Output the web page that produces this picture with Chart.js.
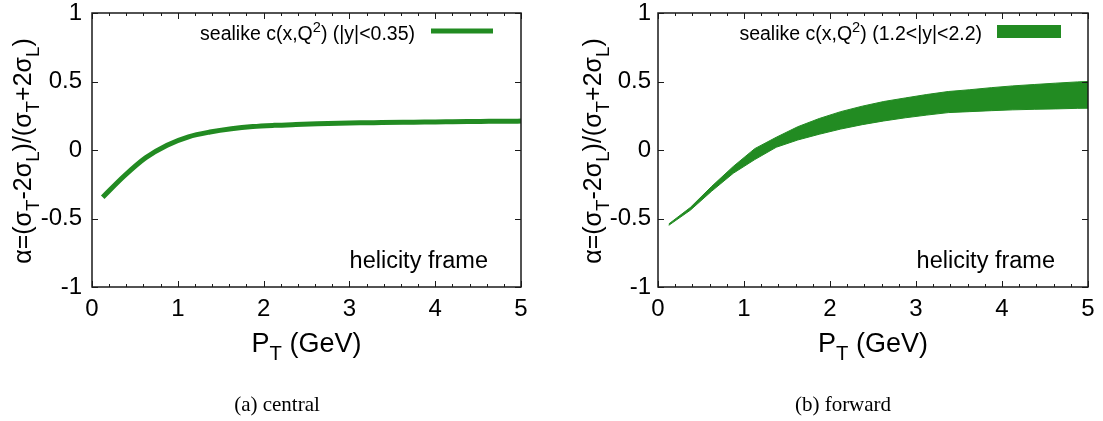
<!DOCTYPE html>
<html>
<head>
<meta charset="utf-8">
<script src="https://cdn.jsdelivr.net/npm/chart.js@4.4.1/dist/chart.umd.min.js"></script>
<style>
  body { margin: 0; background: #fff; width: 1103px; height: 421px; position: relative; overflow: hidden; }
  canvas { position: absolute; top: 0; }
  #central { left: 0; }
  #forward { left: 551px; }
  .cap { position: absolute; font-family: "Liberation Serif", "Times New Roman", serif; font-size: 21px; line-height: 21px;
         color: #000; white-space: nowrap; transform: translateX(-50%); }
</style>
</head>
<body>
<canvas id="central" width="551" height="421"></canvas>
<canvas id="forward" width="552" height="421"></canvas>
<div class="cap" style="left:277px; top:394px;">(a) central</div>
<div class="cap" style="left:843px; top:394px;">(b) forward</div>
<script>
// P_T grid (GeV) and polarisation parameter alpha, helicity frame
const ptCentral    = [0.125, 0.375, 0.625, 0.875, 1.125, 1.375, 1.625, 1.875, 2.125, 2.375, 2.625, 2.875,
                      3.125, 3.375, 3.625, 3.875, 4.125, 4.375, 4.625, 4.875, 5.0];
const alphaCentral = [-0.345, -0.19, -0.057, 0.035, 0.096, 0.131, 0.155, 0.171, 0.180, 0.186, 0.191, 0.195,
                      0.198, 0.200, 0.202, 0.204, 0.206, 0.208, 0.209, 0.210, 0.211];

const ptForward         = [0.125, 0.375, 0.625, 0.875, 1.125, 1.375, 1.625, 1.875, 2.125, 2.375, 2.625, 2.875,
                           3.125, 3.375, 3.625, 3.875, 4.125, 4.375, 4.625, 4.875, 5.0];
const alphaForwardUpper = [-0.54, -0.42, -0.265, -0.12, 0.01, 0.093, 0.17, 0.23, 0.28, 0.32, 0.354, 0.38,
                           0.405, 0.427, 0.44, 0.455, 0.468, 0.478, 0.488, 0.497, 0.50];
const alphaForwardLower = [-0.55, -0.44, -0.30, -0.17, -0.07, 0.02, 0.073, 0.115, 0.153, 0.185, 0.212, 0.235,
                           0.255, 0.273, 0.28, 0.287, 0.293, 0.297, 0.30, 0.304, 0.305];

const xTickValues = [0, 1, 2, 3, 4, 5];
const xTickLabels = ['0', '1', '2', '3', '4', '5'];
const yTickValues = [-1, -0.5, 0, 0.5, 1];
const yTickLabels = ['-1', '-0.5', '0', '0.5', '1'];

const FONT  = '"Liberation Sans", Arial, Helvetica, sans-serif';
const GREEN = '#228b22';

// Text with sub/superscripts, drawn as a run of segments
function segWidth(ctx, segs, size) {
  let w = 0;
  for (const s of segs) {
    ctx.font = (s.s ? size * 0.75 : size) + 'px ' + FONT;
    w += ctx.measureText(s.t).width;
  }
  return w;
}
function drawSegs(ctx, segs, x, y, size, align) {
  const w = segWidth(ctx, segs, size);
  let cx = align === 'right' ? x - w : align === 'center' ? x - w / 2 : x;
  ctx.textAlign = 'left';
  ctx.textBaseline = 'alphabetic';
  ctx.fillStyle = '#000';
  for (const s of segs) {
    const sz = s.s ? size * 0.75 : size;
    ctx.font = sz + 'px ' + FONT;
    const dy = s.s === 'sub' ? size * 0.3 : s.s === 'sup' ? -size * 0.42 : 0;
    ctx.fillText(s.t, cx, y + dy);
    cx += ctx.measureText(s.t).width;
  }
}

const yTitle = [{t: 'α=(σ'}, {t: 'T', s: 'sub'}, {t: '-2σ'}, {t: 'L', s: 'sub'}, {t: ')/(σ'},
                {t: 'T', s: 'sub'}, {t: '+2σ'}, {t: 'L', s: 'sub'}, {t: ')'}];
const xTitle = [{t: 'P'}, {t: 'T', s: 'sub'}, {t: ' (GeV)'}];

// Frame, inward ticks, axis titles, key and frame label
function decorations(cfg) {
  return {
    id: 'decorations',
    afterDraw(chart) {
      const ctx = chart.ctx, a = chart.chartArea, xs = chart.scales.x, ys = chart.scales.y;
      ctx.save();
      ctx.strokeStyle = '#1a1a1a';
      ctx.lineWidth = 1;
      ctx.beginPath();
      for (let i = 0; i <= 25; i++) {
        const v = i / 5;
        const len = i % 5 === 0 ? 6 : 3;
        const px = Math.round(xs.getPixelForValue(v)) + 0.5;
        ctx.moveTo(px, a.bottom); ctx.lineTo(px, a.bottom - len);
        ctx.moveTo(px, a.top);    ctx.lineTo(px, a.top + len);
      }
      for (const v of yTickValues) {
        const py = Math.round(ys.getPixelForValue(v)) + 0.5;
        ctx.moveTo(a.left, py);  ctx.lineTo(a.left + 6, py);
        ctx.moveTo(a.right, py); ctx.lineTo(a.right - 6, py);
      }
      ctx.stroke();
      ctx.lineWidth = 1.5;
      ctx.strokeRect(a.left, a.top, a.right - a.left, a.bottom - a.top);

      // axis titles
      drawSegs(ctx, xTitle, (a.left + a.right) / 2, 352, 27, 'center');
      ctx.save();
      ctx.translate(cfg.yTitleX, 151);
      ctx.rotate(-Math.PI / 2);
      drawSegs(ctx, yTitle, 0, 0, 25, 'center');
      ctx.restore();

      // key
      drawSegs(ctx, cfg.keyText, cfg.keyTextRight, 40, 19.5, 'right');
      ctx.fillStyle = GREEN;
      if (cfg.keyBox) {
        ctx.fillRect(cfg.keyX0, 25, cfg.keyX1 - cfg.keyX0, 13);
      } else {
        ctx.strokeStyle = GREEN;
        ctx.lineWidth = 5;
        ctx.beginPath();
        ctx.moveTo(cfg.keyX0, 31); ctx.lineTo(cfg.keyX1, 31);
        ctx.stroke();
      }

      // frame label
      drawSegs(ctx, [{t: 'helicity frame'}], a.right - 33, 268, 23.5, 'right');
      ctx.restore();
    }
  };
}

function scaleOptions(yWidth, yPad) {
  const zeroPad = s => { s.paddingLeft = 0; s.paddingRight = 0; s.paddingTop = 0; s.paddingBottom = 0; };
  return {
    x: {
      type: 'linear', min: 0, max: 5,
      afterBuildTicks: s => { s.ticks = xTickValues.map(v => ({value: v})); },
      ticks: { font: {family: FONT, size: 24}, color: '#000', padding: 8, maxRotation: 0, autoSkip: false,
               callback: v => xTickLabels[xTickValues.indexOf(v)] },
      grid: { display: false, drawTicks: false },
      border: { display: false },
      afterFit: s => { s.height = 134; zeroPad(s); }
    },
    y: {
      type: 'linear', min: -1, max: 1,
      afterBuildTicks: s => { s.ticks = yTickValues.map(v => ({value: v})); },
      ticks: { font: {family: FONT, size: 24}, color: '#000', padding: yPad,
               callback: v => yTickLabels[yTickValues.indexOf(v)] },
      grid: { display: false, drawTicks: false },
      border: { display: false },
      afterFit: s => { s.width = yWidth; zeroPad(s); }
    }
  };
}

const common = {
  responsive: false,
  animation: false,
  events: [],
  plugins: { legend: { display: false }, tooltip: { enabled: false } }
};

new Chart(document.getElementById('central'), {
  type: 'line',
  data: {
    datasets: [{
      data: ptCentral.map((x, i) => ({x, y: alphaCentral[i]})),
      borderColor: GREEN, borderWidth: 5, borderCapStyle: 'butt',
      pointRadius: 0, cubicInterpolationMode: 'monotone', fill: false
    }]
  },
  options: Object.assign({}, common, {
    layout: { padding: { top: 13, right: 30, left: 0, bottom: 0 } },
    scales: scaleOptions(92, 10)
  }),
  plugins: [decorations({
    yTitleX: 31,
    keyText: [{t: 'sealike c(x,Q'}, {t: '2', s: 'sup'}, {t: ') (|y|<0.35)'}],
    keyTextRight: 415, keyX0: 431, keyX1: 493, keyBox: false
  })]
});

new Chart(document.getElementById('forward'), {
  type: 'line',
  data: {
    datasets: [{
      data: ptForward.map((x, i) => ({x, y: alphaForwardUpper[i]})),
      borderColor: GREEN, borderWidth: 1, backgroundColor: GREEN,
      pointRadius: 0, tension: 0, fill: '+1'
    }, {
      data: ptForward.map((x, i) => ({x, y: alphaForwardLower[i]})),
      borderColor: GREEN, borderWidth: 1,
      pointRadius: 0, tension: 0, fill: false
    }]
  },
  options: Object.assign({}, common, {
    layout: { padding: { top: 13, right: 15, left: 0, bottom: 0 } },
    scales: scaleOptions(107, 7)
  }),
  plugins: [decorations({
    yTitleX: 50,
    keyText: [{t: 'sealike c(x,Q'}, {t: '2', s: 'sup'}, {t: ') (1.2<|y|<2.2)'}],
    keyTextRight: 431, keyX0: 446, keyX1: 510, keyBox: true
  })]
});
</script>
</body>
</html>
